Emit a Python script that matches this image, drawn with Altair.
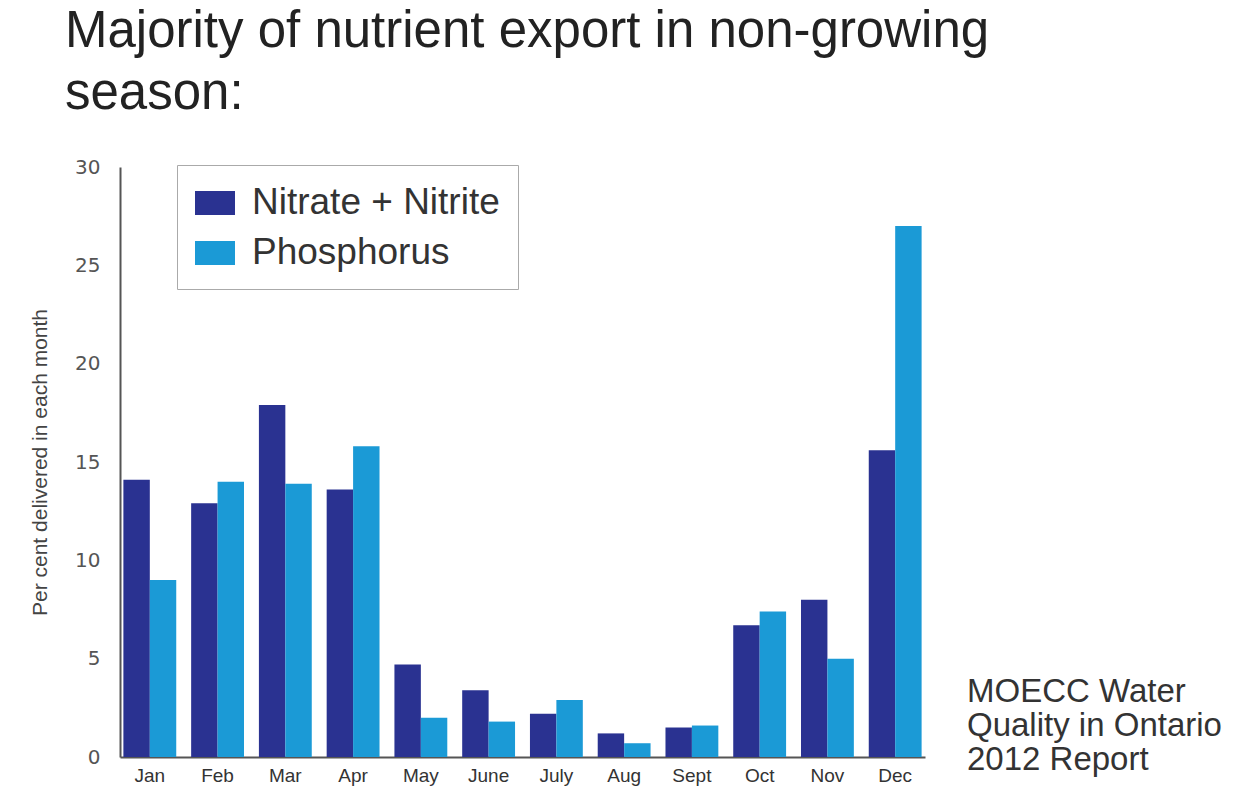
import altair as alt
import pandas as pd

months = ["Jan", "Feb", "Mar", "Apr", "May", "June", "July", "Aug", "Sept", "Oct", "Nov", "Dec"]
series_names = ["Nitrate + Nitrite", "Phosphorus"]
nitrate = [14.1, 12.9, 17.9, 13.6, 4.7, 3.4, 2.2, 1.2, 1.5, 6.7, 8.0, 15.6]
phosphorus = [9.0, 14.0, 13.9, 15.8, 2.0, 1.8, 2.9, 0.7, 1.6, 7.4, 5.0, 27.0]
y_ticks = [0, 5, 10, 15, 20, 25, 30]
colors = ["#2a3291", "#1b9ad6"]
title_lines = ["Majority of nutrient export in non-growing", "season:"]
source_note = "MOECC Water\nQuality in Ontario\n2012 Report"

rows = []
for m, n, p in zip(months, nitrate, phosphorus):
    rows.append({"month": m, "series": series_names[0], "value": n})
    rows.append({"month": m, "series": series_names[1], "value": p})
df = pd.DataFrame(rows)

FONT = "Liberation Sans"

bars = alt.Chart(df).mark_bar().encode(
    x=alt.X("month:N", sort=months,
            scale=alt.Scale(paddingInner=0.22, paddingOuter=0.05),
            axis=alt.Axis(title=None, labelAngle=0, ticks=False, labelFontSize=19,
                          labelColor="#333333", labelPadding=9, domainColor="#555555",
                          domainWidth=2, labelFont=FONT)),
    xOffset=alt.XOffset("series:N", sort=series_names,
                        scale=alt.Scale(paddingInner=0, paddingOuter=0)),
    y=alt.Y("value:Q", scale=alt.Scale(domain=[0, 30], nice=False),
            axis=alt.Axis(title="Per cent delivered in each month", values=y_ticks,
                          grid=False, ticks=False, labelFontSize=20, labelColor="#555555",
                          labelPadding=20, domainColor="#555555", domainWidth=2,
                          titleFontSize=21, titleFontWeight="normal", titleColor="#444444",
                          titlePadding=24, labelFont="DejaVu Sans", titleFont=FONT)),
    color=alt.Color("series:N", sort=series_names,
                    scale=alt.Scale(domain=series_names, range=colors),
                    legend=alt.Legend(title=None, orient="none", legendX=57, legendY=-2,
                                      strokeColor="#aaaaaa", fillColor="white", padding=18,
                                      labelFontSize=37, labelColor="#333333", labelFont=FONT,
                                      symbolType="M-1,-0.6H1V0.6H-1Z", symbolSize=1600,
                                      symbolStrokeWidth=0, labelOffset=17, rowPadding=12,
                                      labelLimit=400)),
)

note_df = pd.DataFrame({"note": [source_note]})
note = alt.Chart(note_df).mark_text(
    align="left", baseline="top", fontSize=33, lineHeight=34, color="#333333",
    font=FONT, lineBreak="\n"
).encode(x=alt.value(847), y=alt.value(509), text="note:N")

chart = alt.layer(bars, note).properties(
    width=805, height=590,
    background="white",
    title=alt.TitleParams(text=title_lines, anchor="start", frame="group", fontSize=51,
                          lineHeight=62, fontWeight="normal", color="#222222", font=FONT,
                          dx=-55, offset=37),
    autosize=alt.AutoSizeParams(type="none"),
    padding={"left": 120, "top": 167, "right": 318, "bottom": 38},
).configure_view(stroke=None)

chart.save("out.html", embed_options={"renderer": "svg", "actions": False})
